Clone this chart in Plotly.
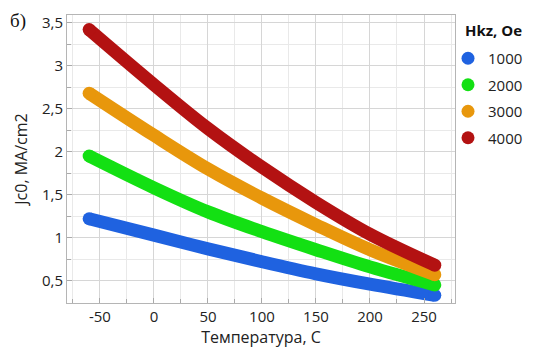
import plotly.graph_objects as go

temperature = [-60, 0, 50, 100, 150, 200, 260]
jc_1000 = [1.22, 1.03, 0.87, 0.72, 0.58, 0.46, 0.33]
jc_2000 = [1.95, 1.58, 1.30, 1.07, 0.86, 0.66, 0.45]
jc_3000 = [2.68, 2.19, 1.80, 1.46, 1.15, 0.86, 0.57]
jc_4000 = [3.42, 2.78, 2.27, 1.82, 1.41, 1.04, 0.68]
series_names = ["1000", "2000", "3000", "4000"]
series_colors = ["#1f62e0", "#13e013", "#e8970c", "#b31212"]

x_tickvals = [-50, 0, 50, 100, 150, 200, 250]
x_ticktext = ["-50", "0", "50", "100", "150", "200", "250"]
y_tickvals = [0.5, 1, 1.5, 2, 2.5, 3, 3.5]
y_ticktext = ["0,5", "1", "1,5", "2", "2,5", "3", "3,5"]

FONT = "Open Sans"
LW = 13
# page body has an 8px default margin: figure is drawn offset by (8, 8)
W, H = 534, 353
ML, MR, MT, MB = 59, 87, 7, 58
PW = W - ML - MR
PH = H - MT - MB

fig = go.Figure()
for i, (name, ys, col) in enumerate(zip(series_names, [jc_1000, jc_2000, jc_3000, jc_4000], series_colors)):
    fig.add_trace(go.Scatter(x=temperature, y=ys, mode="lines",
                             line=dict(color=col, width=LW, shape="spline", smoothing=1.0),
                             showlegend=False, hoverinfo="skip"))
    fig.add_trace(go.Scatter(x=[temperature[0], temperature[-1]], y=[ys[0], ys[-1]],
                             mode="markers", marker=dict(color=col, size=LW),
                             showlegend=False, hoverinfo="skip"))
    fig.add_trace(go.Scatter(x=[None], y=[None], mode="markers", name=name,
                             legendgroup=f"g{i}",
                             marker=dict(color=col, size=13)))

grid = "#d6d6d6"
minor_grid = "#e9e9e9"
fig.update_layout(
    width=W, height=H,
    margin=dict(l=ML, r=MR, t=MT, b=MB, autoexpand=False),
    paper_bgcolor="white", plot_bgcolor="white",
    font=dict(family=FONT, size=15, color="#222"),
    separators=", ",
    xaxis=dict(range=[-80.5, 278.7], tickmode="array", tickvals=x_tickvals, ticktext=x_ticktext,
               showgrid=True, gridcolor=grid, gridwidth=1, automargin=False,
               minor=dict(dtick=25, tick0=0, showgrid=True, gridcolor=minor_grid, ticks="inside",
                          ticklen=4, tickcolor="#aaa"),
               ticks="inside", ticklen=5, tickcolor="#aaa",
               showline=True, linecolor="#b5b5b5", linewidth=1, mirror=True, zeroline=False,
               title=dict(text="Температура, C", font=dict(size=16), standoff=4),
               tickfont=dict(size=15)),
    yaxis=dict(range=[0.24, 3.59], tickmode="array", tickvals=y_tickvals, ticktext=y_ticktext,
               showgrid=True, gridcolor=grid, gridwidth=1, automargin=False,
               minor=dict(dtick=0.25, tick0=0, showgrid=True, gridcolor=minor_grid, ticks="inside",
                          ticklen=4, tickcolor="#aaa"),
               ticks="inside", ticklen=5, tickcolor="#aaa",
               showline=True, linecolor="#b5b5b5", linewidth=1, mirror=True, zeroline=False,
               title=dict(text="Jc0, MA/cm2", font=dict(size=16), standoff=10),
               tickfont=dict(size=15)),
    legend=dict(x=(440 - ML) / PW, y=1 - (34 - MT) / PH, xanchor="left", yanchor="top",
                font=dict(size=15), itemwidth=30, tracegroupgap=4,
                bgcolor="rgba(0,0,0,0)"),
    annotations=[
        dict(text="б)", xref="paper", yref="paper", x=(0 - ML) / PW, y=1 - (0 - MT) / PH,
             xanchor="left", yanchor="top", showarrow=False,
             font=dict(family="Liberation Serif", size=19, color="#111")),
        dict(text="<b>Hkz, Oe</b>", xref="paper", yref="paper", x=(455 - ML) / PW,
             y=1 - (22 - MT) / PH, xanchor="left", yanchor="middle", showarrow=False,
             font=dict(family=FONT, size=15, color="#111")),
    ],
)

fig.write_html("out.html")
